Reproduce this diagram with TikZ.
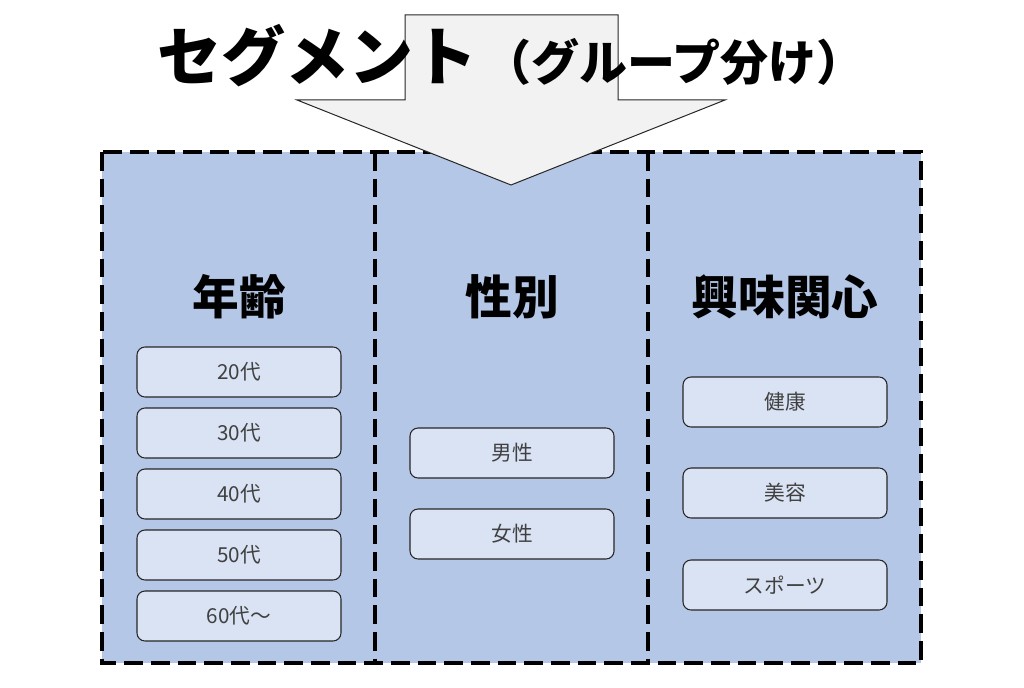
\documentclass[tikz,border=0pt]{standalone}
\usepackage{fontspec}
\usepackage{xcolor}
\usepackage{tikz}
\newfontfamily\jpfont{Noto Sans CJK JP}
\definecolor{panelblue}{RGB}{180,199,231}
\definecolor{itemblue}{RGB}{218,227,243}
\definecolor{arrowgrey}{RGB}{242,242,242}
\definecolor{itemtext}{RGB}{64,64,64}

\begin{document}
\begin{tikzpicture}[x=0.75pt,y=0.75pt,yscale=-1,xscale=1,
  item/.style={draw=black!85, fill=itemblue, rounded corners=6pt, line width=0.8pt, minimum width=153pt, minimum height=37.5pt, inner sep=0pt, text=itemtext, font=\jpfont\fontsize{15.5}{18}\selectfont},
  heading/.style={inner sep=0.75pt, font=\jpfont\bfseries\fontsize{35}{40}\selectfont},
  panelline/.style={line width=2.4pt, dash pattern={on 14pt off 6pt}}]
\useasboundingbox (0,0) rectangle (1024,688);

%Shape: Rectangle [panels]
\fill [panelblue] (102,152) rectangle (921,663);
\draw [panelline] (102,152) rectangle (921,663);
\draw [panelline] (375,152) -- (375,663);
\draw [panelline] (648,152) -- (648,663);

%Shape: Down Arrow
\draw [fill=arrowgrey, draw=black!85, line width=0.75pt] (405,15) -- (618,15) -- (618,100) -- (725,100) -- (511,185) -- (297,100) -- (405,100) -- cycle ;

% Text Node
\node (title) at (511,56) [inner sep=0.75pt] {\jpfont\bfseries\fontsize{48}{52}\selectfont セグメント\hspace{4pt}\fontsize{36}{40}\selectfont （グループ分け）};

% Text Node
\node (age) at (239,297) [heading] {年齢};
\node (sex) at (512,297) [heading] {性別};
\node (interest) at (785,297) [heading] {興味関心};

% Age items
\node (age20) at (239,372) [item] {20代};
\node (age30) at (239,433) [item] {30代};
\node (age40) at (239,494) [item] {40代};
\node (age50) at (239,555) [item] {50代};
\node (age60) at (239,616) [item] {60代〜};

% Gender items
\node (male) at (512,453) [item] {男性};
\node (female) at (512,534) [item] {女性};

% Interest items
\node (health) at (785,402) [item] {健康};
\node (beauty) at (785,493) [item] {美容};
\node (sports) at (785,585) [item] {スポーツ};

\end{tikzpicture}
\end{document}
